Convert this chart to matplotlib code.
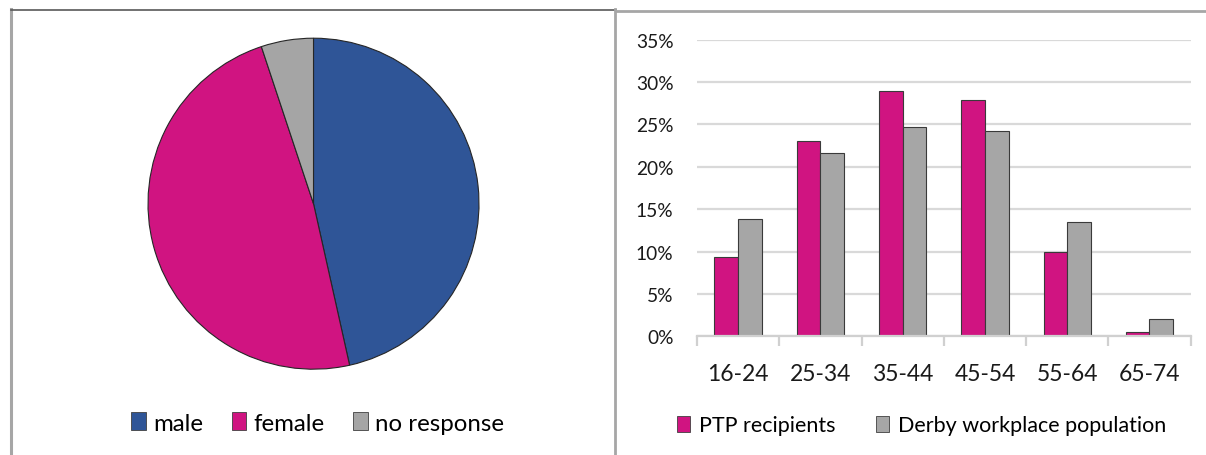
import matplotlib
matplotlib.use("Agg")
import matplotlib.pyplot as plt
from matplotlib.lines import Line2D
from matplotlib.patches import Patch
from matplotlib.ticker import FuncFormatter
import numpy as np

plt.rcParams['font.family'] = ['Lato', 'DejaVu Sans']

# ---- data ----
gender_labels = ['male', 'female', 'no response']
gender_values = [46.5, 48.4, 5.1]
gender_colors = ['#2F5597', '#D01481', '#A5A5A5']

age_groups = ['16-24', '25-34', '35-44', '45-54', '55-64', '65-74']
ptp_recipients = [9.4, 23.1, 28.9, 27.9, 10.0, 0.5]
derby_population = [13.9, 21.6, 24.7, 24.2, 13.5, 2.1]
series_names = ['PTP recipients', 'Derby workplace population']
series_colors = ['#D01481', '#A6A6A6']
y_ticks = [0, 5, 10, 15, 20, 25, 30, 35]

W, H = 1206, 456
fig = plt.figure(figsize=(W / 100, H / 100), dpi=100)


def fx(px):
    return px / W


def fy(py):
    return 1 - py / H


# panel borders
fig.add_artist(Line2D([fx(11), fx(11)], [fy(10), 0], color='#A6A6A6', lw=2.2, transform=fig.transFigure))
fig.add_artist(Line2D([fx(11), fx(616)], [fy(10.5), fy(10.5)], color='#595959', lw=1.2, transform=fig.transFigure))
fig.add_artist(Line2D([fx(615), fx(615)], [fy(10), 0], color='#A6A6A6', lw=2.0, transform=fig.transFigure))
fig.add_artist(Line2D([fx(616), 1], [fy(12), fy(12)], color='#A6A6A6', lw=2.0, transform=fig.transFigure))

# ---- pie ----
cx, cy, r = 313.5, 204.7, 165.5
ax_pie = fig.add_axes([fx(cx - r), fy(cy + r), fx(2 * r), (2 * r) / H])
ax_pie.pie(gender_values, colors=gender_colors, startangle=90, counterclock=False,
           radius=1, wedgeprops=dict(edgecolor='#262626', linewidth=0.8))
ax_pie.set_xlim(-1, 1)
ax_pie.set_ylim(-1, 1)
ax_pie.set_aspect('auto')
ax_pie.axis('off')

handles_pie = [Patch(facecolor=c, edgecolor='#404040', linewidth=0.6, label=l)
               for c, l in zip(gender_colors, gender_labels)]
fig.legend(handles=handles_pie, loc='center', bbox_to_anchor=(fx(317.5), fy(424)),
           ncol=3, frameon=False, fontsize=17.3, handlelength=0.6, handleheight=0.75,
           handletextpad=0.3, columnspacing=1.2, borderpad=0)

# ---- bars ----
left, right, y0, y35 = 697, 1190.6, 337.3, 40.7
ax = fig.add_axes([fx(left), fy(y0), fx(right - left), (y0 - y35) / H])
x = np.arange(len(age_groups))
bw = 0.288
ax.bar(x - bw / 2, ptp_recipients, bw, color=series_colors[0], edgecolor='#3a3a3a', linewidth=0.8, zorder=3)
ax.bar(x + bw / 2, derby_population, bw, color=series_colors[1], edgecolor='#3a3a3a', linewidth=0.8, zorder=3)
ax.set_xlim(-0.5, len(age_groups) - 0.5)
ax.set_ylim(0, 35)
ax.set_yticks(y_ticks)
ax.yaxis.set_major_formatter(FuncFormatter(lambda v, p: f'{int(v)}%'))
ax.grid(axis='y', color='#D9D9D9', linewidth=1.6, zorder=0)
ax.set_axisbelow(True)
for s in ['top', 'right', 'left']:
    ax.spines[s].set_visible(False)
ax.spines['bottom'].set_color('#D0D0D0')
ax.spines['bottom'].set_linewidth(1.6)
ax.spines['bottom'].set_zorder(4)
ax.tick_params(axis='y', length=0, pad=17, labelsize=13.8, labelcolor='#1a1a1a')
ax.set_xticks(np.arange(-0.5, len(age_groups), 1.0))
ax.set_xticklabels([])
ax.set_xticks(x, minor=True)
ax.set_xticklabels(age_groups, minor=True)
ax.tick_params(axis='x', which='major', length=7, width=1.6, color='#D0D0D0')
ax.tick_params(axis='x', which='minor', length=0, pad=19, labelsize=16.5, labelcolor='#1a1a1a')

handles_bar = [Patch(facecolor=c, edgecolor='#404040', linewidth=0.6, label=l)
               for c, l in zip(series_colors, series_names)]
fig.legend(handles=handles_bar, loc='center', bbox_to_anchor=(fx(921.5), fy(426.5)),
           ncol=2, frameon=False, fontsize=15.5, handlelength=0.6, handleheight=0.8,
           handletextpad=0.4, columnspacing=1.9, borderpad=0)

fig.savefig('out.png', dpi=100, facecolor='white')
